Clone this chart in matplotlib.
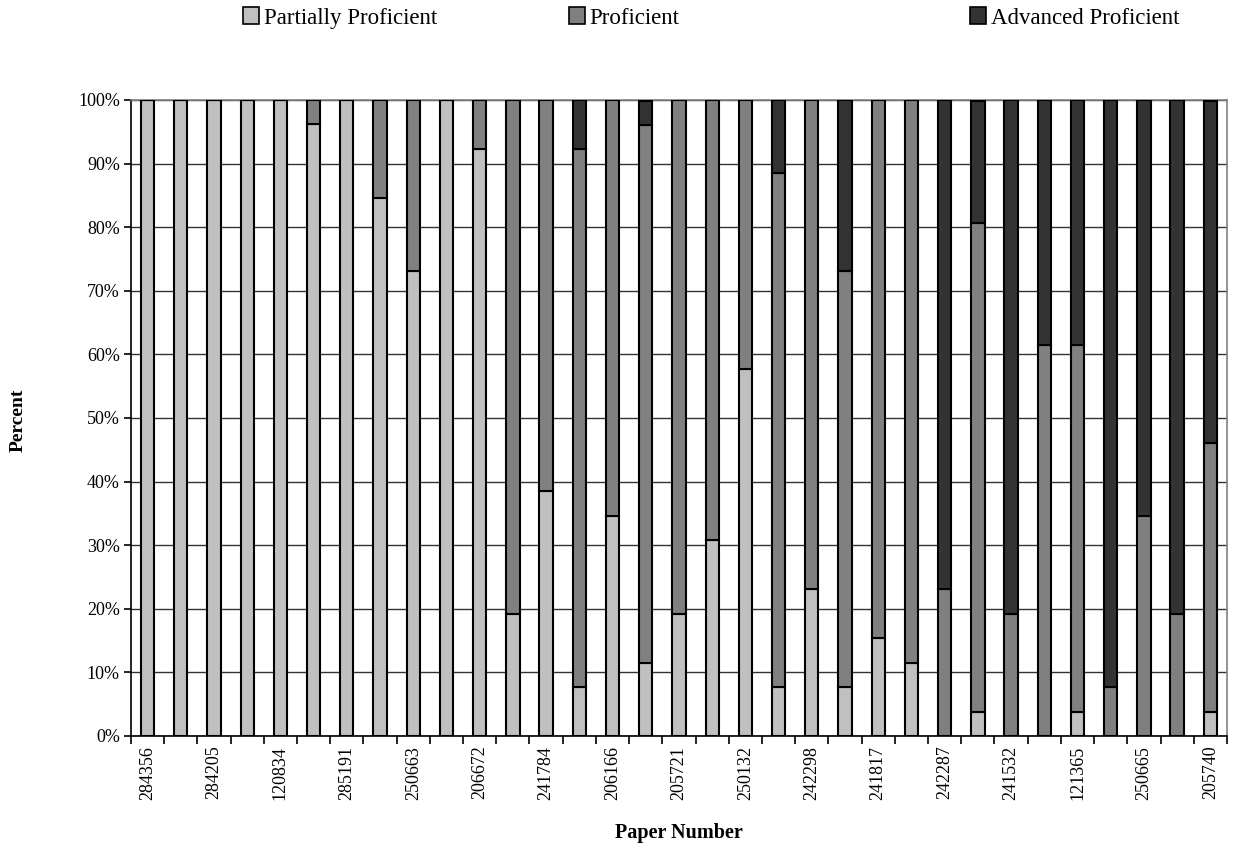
import matplotlib
matplotlib.use("Agg")
import matplotlib.pyplot as plt
import numpy as np
from matplotlib.ticker import FixedLocator, PercentFormatter
from matplotlib.patches import Patch

plt.rcParams['font.family'] = ['Liberation Serif', 'DejaVu Serif']

tick_labels = ["284356", "284205", "120834", "285191", "250663", "206672", "241784",
               "206166", "205721", "250132", "242298", "241817", "242287", "241532",
               "121365", "250665", "205740"]

partially = [100, 100, 100, 100, 100, 96.2, 100, 84.6, 73.1, 100, 92.3, 19.2, 38.5, 7.7,
             34.6, 11.5, 19.2, 30.8, 57.7, 7.7, 23.1, 7.7, 15.4, 11.5, 0, 3.8, 0, 0,
             3.8, 0, 0, 0, 3.8]
proficient = [0, 0, 0, 0, 0, 3.8, 0, 15.4, 26.9, 0, 7.7, 80.8, 61.5, 84.6,
              65.4, 84.6, 80.8, 69.2, 42.3, 80.8, 76.9, 65.4, 84.6, 88.5, 23.1, 76.9, 19.2, 61.5,
              57.7, 7.7, 34.6, 19.2, 42.3]
advanced = [0, 0, 0, 0, 0, 0, 0, 0, 0, 0, 0, 0, 0, 7.7,
            0, 3.8, 0, 0, 0, 11.5, 0, 26.9, 0, 0, 76.9, 19.2, 80.8, 38.5,
            38.5, 92.3, 65.4, 80.8, 53.8]

series_names = ["Partially Proficient", "Proficient", "Advanced Proficient"]
colors = ["#C0C0C0", "#808080", "#333333"]

fig = plt.figure(figsize=(12.33, 8.48), dpi=100)
ax = fig.add_axes([0.1062, 0.1321, 0.8889, 0.75])

x = np.arange(len(partially))
bottom = np.zeros(len(x))
for vals, name, c in zip([partially, proficient, advanced], series_names, colors):
    v = np.array(vals, dtype=float)
    ax.bar(x, v, width=0.4, bottom=bottom, color=c, edgecolor='black',
           linewidth=1.5, label=name, zorder=3)
    bottom += v

ax.set_xlim(-0.5, len(x) - 0.5)
ax.set_ylim(0, 100)
ax.set_yticks(np.arange(0, 101, 10))
ax.yaxis.set_major_formatter(PercentFormatter(decimals=0))
ax.grid(axis='y', color='#333333', linewidth=1.0, zorder=0)

ax.xaxis.set_major_locator(FixedLocator(np.arange(-0.5, len(x), 1.0)))
ax.xaxis.set_major_formatter(plt.NullFormatter())
ax.xaxis.set_minor_locator(FixedLocator(x[::2]))
ax.set_xticklabels(tick_labels, minor=True, rotation=90, fontsize=13)
ax.tick_params(axis='x', which='major', length=6, width=1.2, direction='out')
ax.tick_params(axis='x', which='minor', length=0, pad=7)
ax.tick_params(axis='y', length=5, width=1.2, labelsize=13, pad=3)

for s in ['left', 'bottom']:
    ax.spines[s].set_color('black')
    ax.spines[s].set_linewidth(1.2)
for s in ['top', 'right']:
    ax.spines[s].set_color('#808080')
    ax.spines[s].set_linewidth(1.2)

fig.text(0.5507, 1 - 833 / 848, "Paper Number", fontsize=14.5, fontweight='bold',
         ha='center', va='center')
fig.text(18 / 1233, 1 - 420 / 848, "Percent", rotation=90, fontsize=14, fontweight='bold',
         ha='center', va='center')

legend_x = [243, 569, 970]
for name, c, lx in zip(series_names, colors, legend_x):
    h = Patch(facecolor=c, edgecolor='black', linewidth=1.2)
    fig.legend(handles=[h], labels=[name], loc='center left',
               bbox_to_anchor=(lx / 1233, 1 - 18 / 848), frameon=False, fontsize=16.5,
               handlelength=0.7, handleheight=0.7, handletextpad=0.2, borderpad=0,
               borderaxespad=0)

fig.savefig("out.png", dpi=100)
